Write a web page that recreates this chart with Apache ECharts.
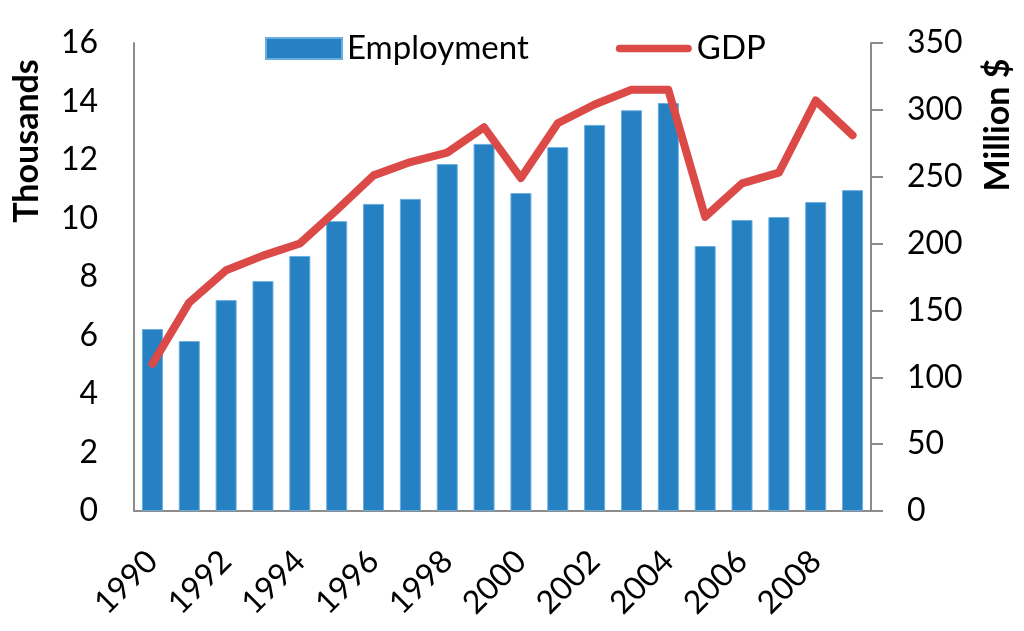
<!DOCTYPE html>
<html>
<head>
<meta charset="utf-8">
<script src="https://cdn.jsdelivr.net/npm/echarts@6/dist/echarts.min.js"></script>
<style>html,body{margin:0;padding:0;background:#fff}#c{width:1024px;height:631px}</style>
</head>
<body>
<div id="c"></div>
<script>
const years = ['1990','1991','1992','1993','1994','1995','1996','1997','1998','1999','2000','2001','2002','2003','2004','2005','2006','2007','2008','2009'];
const employment = [6.22,5.81,7.21,7.86,8.72,9.91,10.5,10.67,11.86,12.55,10.87,12.44,13.2,13.7,13.95,9.06,9.95,10.05,10.56,10.97];
const gdp = [110,156,180,191,200,225,251,261,268,287,249,290,304,315,315,220,245,253,307,281];
const leftTitle = 'Thousands';
const rightTitle = 'Million $';

const FONT = 'Lato';
const chart = echarts.init(document.getElementById('c'));
chart.setOption({
  animation: false,
  textStyle: {fontFamily: FONT},
  grid: {left: 134, right: 153, top: 43, bottom: 120},
  legend: {
    left: 260, top: 27, itemWidth: 76, itemHeight: 21, itemGap: 87,
    textStyle: {fontFamily: FONT, fontSize: 33, color: '#000'},
    data: [
      {name: 'Employment', icon: 'rect'},
      {name: 'GDP', icon: 'path://M4,0L76,0A4,4,0,0,1,76,8L4,8A4,4,0,0,1,4,0Z', itemStyle: {color: '#DB4A46'}}
    ]
  },
  xAxis: {
    type: 'category', data: years,
    axisLine: {lineStyle: {color: '#8c8c8c', width: 2}},
    axisTick: {show: false},
    axisLabel: {interval: 1, rotate: 45, fontSize: 32, color: '#000', fontFamily: FONT, margin: 45}
  },
  yAxis: [
    {type: 'value', min: 0, max: 16, interval: 2, position: 'left',
     axisLine: {show: true, lineStyle: {color: '#8c8c8c', width: 2}},
     axisTick: {show: false}, splitLine: {show: false},
     axisLabel: {fontSize: 32, color: '#000', fontFamily: FONT, margin: 36}},
    {type: 'value', min: 0, max: 350, interval: 50, position: 'right',
     axisLine: {show: true, lineStyle: {color: '#8c8c8c', width: 2}},
     axisTick: {show: true, length: 12, lineStyle: {color: '#8c8c8c', width: 2}},
     splitLine: {show: false},
     axisLabel: {fontSize: 32, color: '#000', fontFamily: FONT, margin: 36}}
  ],
  series: [
    {name: 'Employment', type: 'bar', data: employment, yAxisIndex: 0, barWidth: '57%',
     itemStyle: {color: '#2581C1', borderColor: '#6AAEE0', borderWidth: 1}},
    {name: 'GDP', type: 'line', data: gdp, yAxisIndex: 1, symbol: 'none',
     lineStyle: {color: '#DB4A46', width: 8, cap: 'round', join: 'round'},
     itemStyle: {color: '#DB4A46'}}
  ],
  graphic: [
    {type: 'text', x: 27, y: 141, rotation: Math.PI/2,
     style: {text: leftTitle, font: 'bold 34px ' + FONT, fill: '#000', textAlign: 'center', textVerticalAlign: 'middle'}},
    {type: 'text', x: 998, y: 125, rotation: Math.PI/2,
     style: {text: rightTitle, font: 'bold 34px ' + FONT, fill: '#000', textAlign: 'center', textVerticalAlign: 'middle'}}
  ]
});
</script>
</body>
</html>
